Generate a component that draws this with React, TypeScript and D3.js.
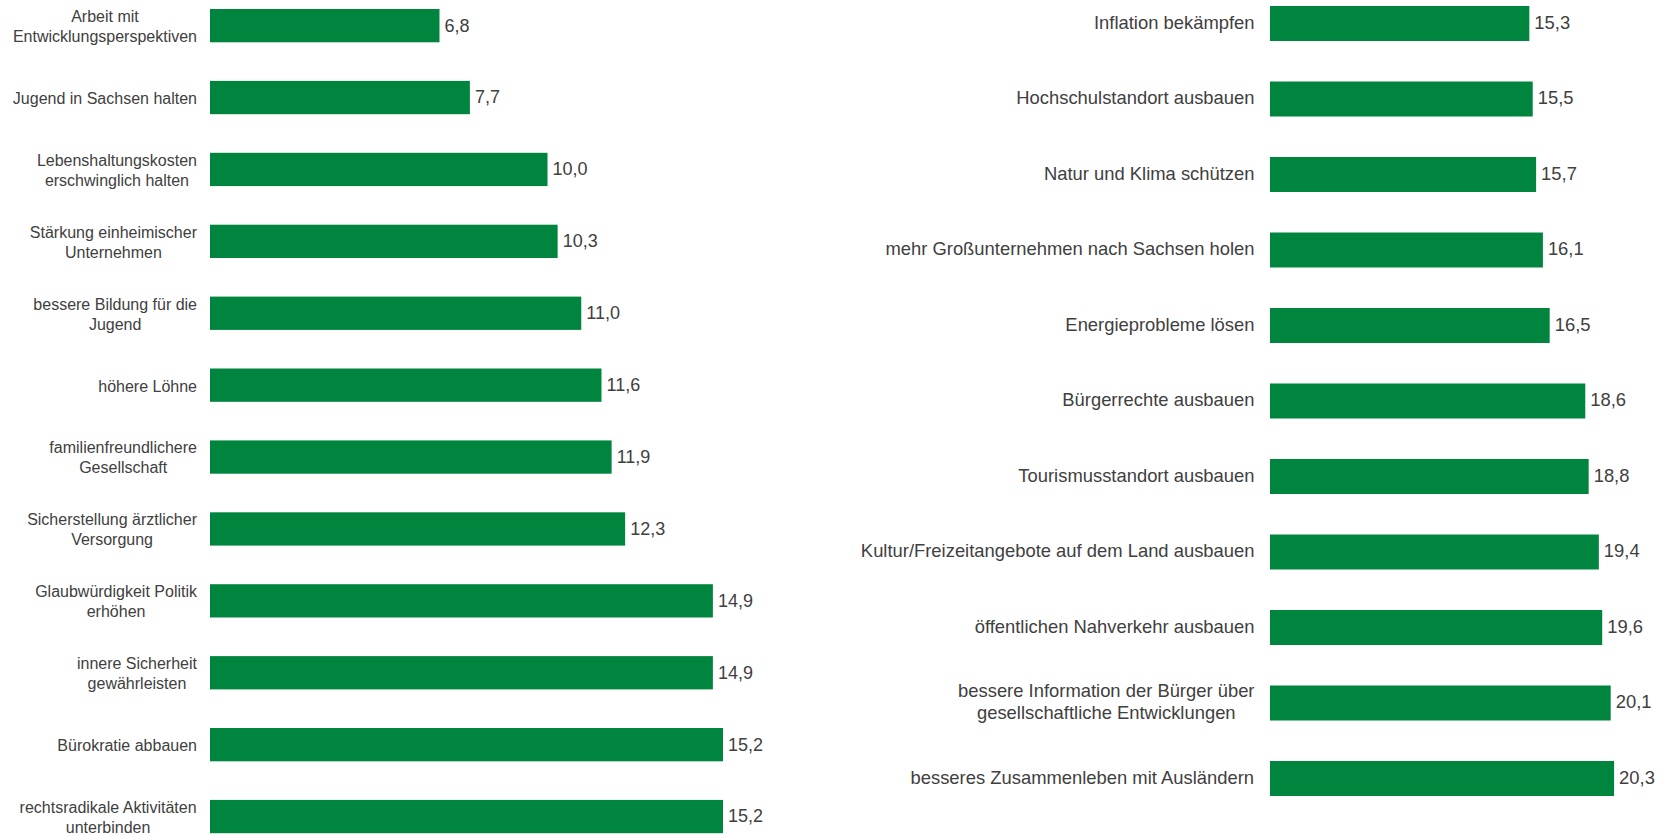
import React from "react";
import * as d3 from "d3";

const LEFT_LABELS = [
  "Arbeit mit\nEntwicklungsperspektiven",
  "Jugend in Sachsen halten",
  "Lebenshaltungskosten\nerschwinglich halten",
  "Stärkung einheimischer\nUnternehmen",
  "bessere Bildung für die\nJugend",
  "höhere Löhne",
  "familienfreundlichere\nGesellschaft",
  "Sicherstellung ärztlicher\nVersorgung",
  "Glaubwürdigkeit Politik\nerhöhen",
  "innere Sicherheit\ngewährleisten",
  "Bürokratie abbauen",
  "rechtsradikale Aktivitäten\nunterbinden",
];
const LEFT_VALUES = [6.8, 7.7, 10.0, 10.3, 11.0, 11.6, 11.9, 12.3, 14.9, 14.9, 15.2, 15.2];

const RIGHT_LABELS = [
  "Inflation bekämpfen",
  "Hochschulstandort ausbauen",
  "Natur und Klima schützen",
  "mehr Großunternehmen nach Sachsen holen",
  "Energieprobleme lösen",
  "Bürgerrechte ausbauen",
  "Tourismusstandort ausbauen",
  "Kultur/Freizeitangebote auf dem Land ausbauen",
  "öffentlichen Nahverkehr ausbauen",
  "bessere Information der Bürger über\ngesellschaftliche Entwicklungen",
  "besseres Zusammenleben mit Ausländern",
];
const RIGHT_VALUES = [15.3, 15.5, 15.7, 16.1, 16.5, 18.6, 18.8, 19.4, 19.6, 20.1, 20.3];

const GREEN = "#00853F";
const TEXT = "#404040";
const FONT = "'Liberation Sans', Arial, sans-serif";

let ctx: CanvasRenderingContext2D | null = null;
function measure(text: string, size: number) {
  if (!ctx) ctx = document.createElement("canvas").getContext("2d");
  if (!ctx) return text.length * size * 0.5;
  ctx.font = `${size}px ${FONT}`;
  return ctx.measureText(text).width;
}

const fmt = (v: number) => d3.format(".1f")(v).replace(".", ",");

type PanelProps = {
  labels: string[];
  values: number[];
  x: d3.ScaleLinear<number, number>;
  y: d3.ScaleBand<number>;
  labelRight: number;
  catSize: number;
  valSize: number;
  lineHeight: number;
  catShift: number;
  valShift: number;
};

function Panel({ labels, values, x, y, labelRight, catSize, valSize, lineHeight, catShift, valShift }: PanelProps) {
  return (
    <g>
      {values.map((v, i) => {
        const y0 = y(i) as number;
        const bw = y.bandwidth();
        const cy = y0 + bw / 2;
        const lines = labels[i].split("\n");
        const maxW = Math.max(...lines.map((l) => measure(l, catSize)));
        const cx = labelRight - maxW / 2;
        return (
          <g key={i}>
            <rect x={x(0)} y={y0} width={x(v) - x(0)} height={bw} fill={GREEN} />
            {lines.map((l, j) => (
              <text
                key={j}
                x={cx}
                y={cy + (j - (lines.length - 1) / 2) * lineHeight + catSize * catShift}
                textAnchor="middle"
                fontSize={catSize}
                fontFamily={FONT}
                fill={TEXT}
              >
                {l}
              </text>
            ))}
            <text
              x={x(v) + 5}
              y={cy + valSize * valShift}
              fontSize={valSize}
              fontFamily={FONT}
              fill={TEXT}
            >
              {fmt(v)}
            </text>
          </g>
        );
      })}
    </g>
  );
}

export default function App() {
  const W = 1664;
  const H = 834;

  const xLeft = d3.scaleLinear().domain([0, 20]).range([210, 210 + 20 * 33.75]);
  const yLeft = d3
    .scaleBand<number>()
    .domain(d3.range(LEFT_VALUES.length))
    .range([9, 833.2])
    .paddingInner(0.537)
    .paddingOuter(0);

  const xRight = d3.scaleLinear().domain([0, 20]).range([1270, 1270 + 20 * 16.95]);
  const yRight = d3
    .scaleBand<number>()
    .domain(d3.range(RIGHT_VALUES.length))
    .range([6, 796])
    .paddingInner(0.5364)
    .paddingOuter(0);

  return (
    <svg
      width={W}
      height={H}
      style={{ position: "absolute", left: 0, top: 0, background: "#fff" }}
    >
      <rect x={0} y={0} width={W} height={H} fill="#fff" />
      <Panel
        labels={LEFT_LABELS}
        values={LEFT_VALUES}
        x={xLeft}
        y={yLeft}
        labelRight={197}
        catSize={16}
        valSize={18}
        lineHeight={20}
        catShift={0.4}
        valShift={0.33}
      />
      <Panel
        labels={RIGHT_LABELS}
        values={RIGHT_VALUES}
        x={xRight}
        y={yRight}
        labelRight={1254.5}
        catSize={18.4}
        valSize={18.4}
        lineHeight={22}
        catShift={0.29}
        valShift={0.28}
      />
    </svg>
  );
}
